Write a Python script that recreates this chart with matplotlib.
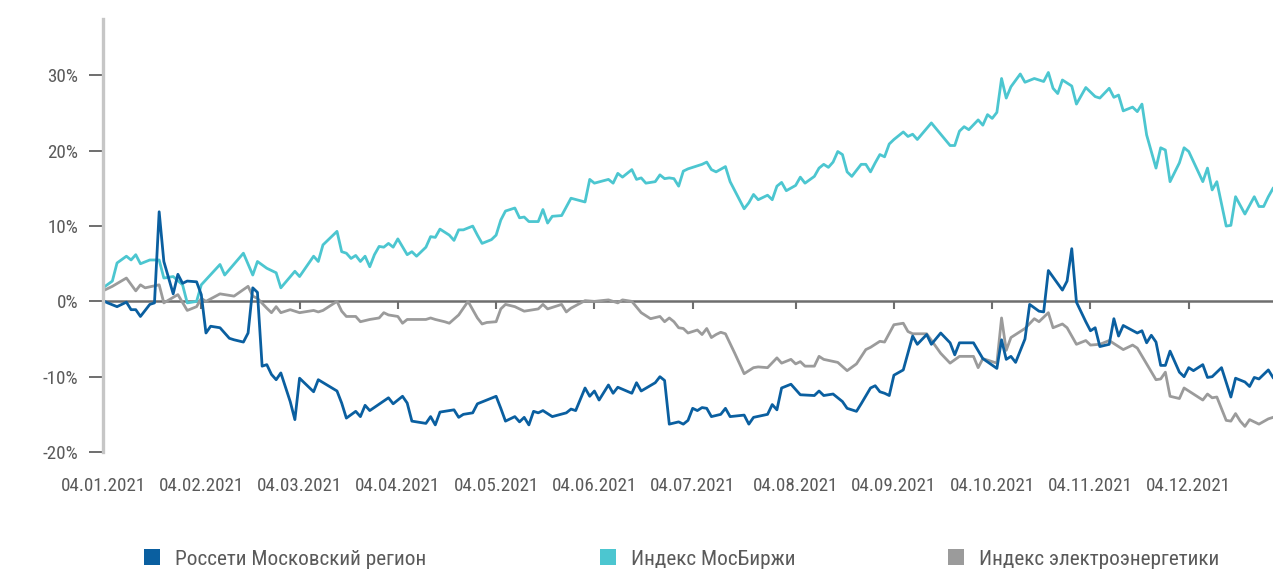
import matplotlib
matplotlib.use("Agg")
import matplotlib.pyplot as plt
from matplotlib.patches import Patch

plt.rcParams['font.family'] = ['Roboto Condensed', 'DejaVu Sans']

# Trading-day index (0 = 04.01.2021) and cumulative change, %
rosseti_day = [0, 1, 3, 5, 6, 7, 8, 10, 11, 12, 13, 15, 16, 17, 18, 20, 21, 22, 23, 25, 27, 28, 30, 31, 32, 33,
               34, 35, 36, 37, 38, 40, 41, 42, 45, 46, 50, 51, 52, 54, 55, 56, 57, 61, 62, 64, 65, 66, 69, 70,
               71, 72, 75, 76, 77, 79, 80, 82, 84, 85, 86, 88, 89, 90, 91, 92, 93, 94, 96, 99, 100, 101, 103,
               104, 105, 106, 108, 109, 110, 113, 114, 115, 118, 119, 120, 121, 123, 124, 125, 126, 127, 128,
               129, 130, 132, 133, 134, 137, 138, 139, 142, 143, 144, 145, 147, 149, 152, 153, 154, 156, 158,
               159, 161, 162, 164, 165, 166, 167, 168, 169, 171, 173, 174, 176, 177, 179, 181, 182, 183, 186,
               188, 191, 192, 193, 194, 195, 197, 198, 200, 201, 202, 205, 206, 207, 208, 210, 211, 212, 213,
               215, 216, 217, 218, 221, 222, 223, 224, 225, 226, 227, 228, 230, 231, 232, 233, 235, 236, 237,
               239, 241, 242, 244, 245, 246, 247, 249, 250]
rosseti_val = [0.1, -0.2, -0.7, -0.1, -1.1, -1.1, -2.0, -0.4, -0.2, 11.9, 5.3, 1.0, 3.6, 2.4, 2.7, 2.6, 0.9,
               -4.2, -3.3, -3.5, -4.9, -5.1, -5.4, -4.2, 1.8, 1.2, -8.6, -8.4, -9.7, -10.4, -9.5, -13.3, -15.7,
               -10.2, -12.0, -10.4, -11.9, -13.5, -15.5, -14.6, -15.3, -13.8, -14.5, -12.8, -13.6, -12.6, -13.5,
               -15.9, -16.2, -15.3, -16.4, -14.7, -14.4, -15.4, -15.0, -14.8, -13.6, -13.1, -12.6, -14.2, -15.9,
               -15.3, -16.0, -15.4, -16.4, -14.6, -14.8, -14.5, -15.3, -14.8, -14.3, -14.5, -11.5, -12.6, -11.9,
               -13.1, -11.1, -12.2, -11.4, -12.2, -10.8, -11.9, -10.8, -10.0, -10.5, -16.3, -16.0, -16.3, -15.8,
               -14.2, -14.5, -14.1, -14.2, -15.3, -15.0, -14.2, -15.3, -15.1, -16.3, -15.4, -15.0, -13.7, -14.4,
               -11.5, -11.0, -12.4, -12.5, -11.9, -12.5, -12.3, -13.3, -14.2, -14.6, -13.6, -11.5, -11.2, -12.0,
               -12.2, -12.5, -9.8, -9.1, -4.6, -5.7, -4.4, -5.7, -4.2, -5.5, -7.1, -5.5, -5.5, -7.6, -8.9, -5.1,
               -7.7, -7.3, -8.1, -5.0, -0.4, -1.3, -1.4, 4.1, 1.5, 2.7, 7.0, -0.1, -2.7, -3.9, -3.5, -6.0, -5.7,
               -2.3, -4.6, -3.2, -4.2, -3.9, -5.5, -4.5, -5.4, -8.5, -8.5, -6.6, -9.4, -10.0, -8.8, -9.2, -8.4,
               -10.1, -10.0, -8.8, -12.7, -10.2, -10.7, -11.3, -10.1, -10.3, -9.1, -10.1]

moex_day = [0, 2, 3, 5, 6, 7, 8, 10, 12, 13, 15, 17, 18, 20, 21, 25, 26, 30, 32, 33, 35, 37, 38, 41, 42, 45, 46,
            47, 50, 51, 52, 53, 54, 55, 56, 57, 58, 59, 60, 61, 62, 63, 65, 66, 67, 69, 70, 71, 72, 74, 75, 76,
            77, 79, 80, 81, 83, 84, 85, 86, 88, 89, 90, 91, 93, 94, 95, 96, 98, 100, 103, 104, 105, 108, 109,
            110, 111, 113, 114, 115, 116, 118, 119, 120, 121, 122, 123, 124, 125, 128, 129, 130, 131, 133, 134,
            137, 138, 139, 140, 142, 143, 144, 145, 146, 148, 149, 150, 152, 153, 154, 155, 156, 157, 158, 159,
            160, 162, 163, 164, 165, 166, 167, 168, 169, 171, 172, 173, 174, 177, 181, 182, 183, 184, 185, 187,
            188, 189, 190, 191, 192, 193, 194, 196, 197, 199, 201, 202, 203, 204, 205, 207, 208, 210, 212, 213,
            215, 216, 217, 218, 220, 221, 222, 223, 225, 226, 227, 228, 230, 231, 232, 235, 236, 237, 238, 240,
            241, 242, 244, 246, 247, 248, 249, 250]
moex_val = [1.8, 2.7, 5.1, 6.0, 5.5, 6.2, 5.0, 5.5, 5.5, 3.1, 3.3, 2.2, -0.2, 0.0, 2.2, 4.9, 3.5, 6.4, 3.5, 5.3,
            4.4, 3.8, 1.8, 4.0, 3.3, 6.0, 5.3, 7.5, 9.3, 6.6, 6.4, 5.7, 6.1, 5.3, 6.0, 4.6, 6.2, 7.3, 7.2, 7.7,
            7.2, 8.3, 6.2, 6.6, 6.0, 7.2, 8.6, 8.5, 9.6, 8.8, 8.1, 9.5, 9.5, 10.0, 8.8, 7.7, 8.2, 8.8, 10.8,
            12.0, 12.4, 11.1, 11.2, 10.6, 10.6, 12.2, 10.4, 11.3, 11.4, 13.7, 13.2, 16.2, 15.7, 16.2, 15.7,
            17.0, 16.5, 17.5, 16.2, 16.4, 15.7, 15.9, 16.8, 16.3, 16.4, 16.3, 15.3, 17.3, 17.6, 18.2, 18.5,
            17.5, 17.2, 17.9, 15.9, 12.3, 13.1, 14.2, 13.5, 14.1, 13.5, 15.3, 15.8, 14.7, 15.4, 16.5, 15.7,
            16.6, 17.7, 18.2, 17.8, 18.5, 19.9, 19.5, 17.2, 16.6, 18.2, 18.2, 17.2, 18.4, 19.5, 19.2, 20.9,
            21.5, 22.5, 21.9, 22.2, 21.5, 23.7, 20.7, 20.7, 22.6, 23.2, 22.8, 24.1, 23.4, 24.8, 24.3, 25.1,
            29.6, 27.0, 28.5, 30.2, 29.1, 29.6, 29.2, 30.4, 28.3, 27.6, 29.4, 28.6, 26.2, 28.4, 27.2, 27.0,
            28.3, 27.1, 27.4, 25.3, 25.8, 25.2, 26.2, 22.1, 17.7, 20.4, 20.1, 15.9, 18.4, 20.4, 19.9, 15.9,
            17.7, 14.8, 15.9, 10.0, 10.1, 13.9, 11.6, 13.9, 12.6, 12.6, 13.9, 15.0]

power_day = [0, 2, 5, 7, 8, 9, 12, 13, 16, 18, 20, 21, 22, 25, 28, 31, 32, 33, 35, 36, 37, 38, 40, 42, 45, 46,
             47, 50, 51, 52, 54, 55, 57, 59, 60, 61, 63, 64, 65, 69, 70, 71, 73, 74, 76, 78, 80, 81, 82, 84,
             85, 86, 88, 90, 93, 94, 95, 98, 99, 100, 103, 105, 108, 110, 111, 113, 115, 117, 119, 120, 121,
             122, 123, 124, 125, 127, 128, 129, 130, 131, 132, 133, 135, 137, 139, 140, 142, 144, 145, 147,
             148, 149, 150, 152, 153, 154, 157, 159, 161, 163, 164, 166, 167, 169, 171, 172, 173, 176, 179,
             181, 183, 186, 187, 188, 191, 192, 193, 194, 195, 197, 199, 200, 202, 203, 205, 206, 208, 210,
             211, 213, 215, 218, 220, 221, 223, 225, 226, 227, 228, 230, 231, 232, 235, 236, 237, 238, 240,
             241, 242, 243, 244, 245, 247, 249, 250]
power_val = [1.4, 2.0, 3.1, 1.4, 2.2, 1.8, 2.2, -0.2, 0.9, -1.2, -0.7, 0.4, 0.0, 1.0, 0.7, 2.0, 0.7, 0.4, -0.9,
             -1.5, -0.7, -1.5, -1.1, -1.5, -1.2, -1.4, -1.2, 0.0, -1.3, -2.0, -2.0, -2.7, -2.4, -2.2, -1.5,
             -1.8, -2.0, -2.9, -2.4, -2.4, -2.2, -2.4, -2.7, -2.9, -1.8, 0.0, -2.2, -3.0, -2.8, -2.7, -1.0,
             -0.4, -0.7, -1.3, -1.0, -0.4, -1.0, -0.4, -1.4, -0.9, 0.1, 0.0, 0.2, -0.2, 0.2, 0.0, -1.5, -2.3,
             -2.0, -2.7, -2.2, -2.7, -3.5, -3.6, -4.2, -3.8, -4.4, -3.6, -4.8, -4.4, -4.1, -4.3, -6.9, -9.6,
             -8.8, -8.7, -8.8, -7.5, -8.2, -7.7, -8.3, -8.0, -8.6, -8.6, -7.3, -7.7, -8.1, -9.2, -8.3, -6.4,
             -6.1, -5.3, -5.4, -3.1, -2.9, -4.0, -4.3, -4.3, -6.9, -8.2, -7.3, -7.3, -8.8, -7.6, -8.2, -2.2,
             -6.5, -4.8, -4.4, -3.6, -2.3, -2.7, -1.5, -3.5, -3.0, -3.5, -5.7, -5.2, -5.8, -5.7, -5.2, -6.4,
             -5.8, -6.2, -8.3, -10.4, -10.3, -9.4, -12.6, -12.9, -11.5, -11.9, -13.1, -12.3, -12.8, -12.7,
             -15.8, -15.9, -14.9, -15.9, -16.6, -15.7, -16.3, -15.6, -15.4]

series_names = ['Россети Московский регион', 'Индекс МосБиржи', 'Индекс электроэнергетики']
series_colors = ['#0a5fa0', '#4cc6d0', '#9b9b9b']

month_tick_days = [0, 21, 42, 63, 84, 105, 126, 148, 169, 190, 211, 232]
month_tick_labels = ['04.01.2021', '04.02.2021', '04.03.2021', '04.04.2021', '04.05.2021', '04.06.2021',
                     '04.07.2021', '04.08.2021', '04.09.2021', '04.10.2021', '04.11.2021', '04.12.2021']
y_ticks = [-20, -10, 0, 10, 20, 30]
y_tick_labels = ['-20%', '-10%', '0%', '10%', '20%', '30%']

TEXT = '#5a5a5a'
FS = 13.7
FS_LEGEND = 15.3

W, H = 1273, 572
fig = plt.figure(figsize=(W / 100, H / 100), dpi=100)
ax = fig.add_axes([103 / W, 1 - 452 / H, 1 - 103 / W, (452 - 19) / H])

ax.plot(moex_day, moex_val, color=series_colors[1], lw=2.0, zorder=2)
ax.plot(power_day, power_val, color=series_colors[2], lw=2.0, zorder=2.1)
ax.plot(rosseti_day, rosseti_val, color=series_colors[0], lw=2.0, zorder=2.2)

ax.set_xlim(0, 250)
ax.set_ylim(-20, 37.5)

# horizontal axis runs through zero, labels sit under the plot
for s in ('top', 'right'):
    ax.spines[s].set_visible(False)
ax.spines['bottom'].set_position(('data', 0))
ax.spines['bottom'].set_color('#6e6e6e')
ax.spines['bottom'].set_linewidth(1.8)
ax.spines['bottom'].set_zorder(1.5)
ax.spines['left'].set_color('#c6c6c6')
ax.spines['left'].set_linewidth(2.4)

ax.set_xticks(month_tick_days)
ax.tick_params(axis='x', direction='out', length=6, width=1.5, color='#6e6e6e', labelbottom=False)

ax.set_yticks(y_ticks)
ax.set_yticklabels(y_tick_labels)
ax.tick_params(axis='y', direction='out', length=10, width=1.2, color='#555555',
               labelsize=FS, labelcolor=TEXT, pad=8)

sec = ax.secondary_xaxis('bottom')
sec.set_xticks(month_tick_days)
sec.set_xticklabels(month_tick_labels)
sec.tick_params(length=0, labelsize=FS, labelcolor=TEXT, pad=18)
sec.spines['bottom'].set_visible(False)

# legend entries placed along the bottom
legend_x = [144, 600, 948]
for name, color, x0 in zip(series_names, series_colors, legend_x):
    handle = Patch(facecolor=color, edgecolor='none', label=name)
    fig.legend(handles=[handle], loc='center left', bbox_to_anchor=(x0 / W, 1 - 559 / H),
               frameon=False, fontsize=FS_LEGEND, labelcolor=TEXT, handlelength=0.75, handleheight=0.75,
               handletextpad=0.7, borderpad=0, borderaxespad=0)

fig.savefig('out.png', dpi=100)
